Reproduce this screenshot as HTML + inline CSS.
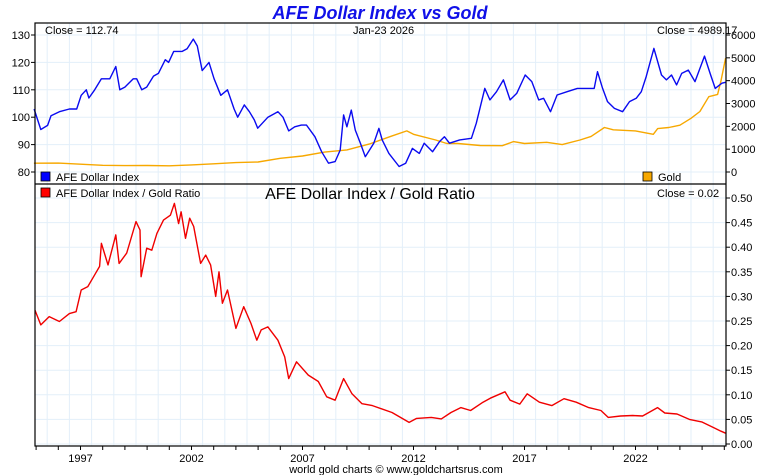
<!DOCTYPE html>
<html><head><meta charset="utf-8"><style>
body{margin:0;background:#fff;width:760px;height:475px;overflow:hidden}
svg{display:block;font-family:"Liberation Sans",sans-serif}
</style></head><body>
<svg id="c" width="760" height="475"></svg>
<script>
const yearTicks=[1997,2002,2007,2012,2017,2022];
const leftTicks=[80,90,100,110,120,130];
const rightTicks=[0,1000,2000,3000,4000,5000,6000];
const ratioTicks=[0,0.05,0.1,0.15,0.2,0.25,0.3,0.35,0.4,0.45,0.5];
const dxDates=[1994.91,1995.21,1995.52,1995.67,1996.05,1996.5,1996.83,1997.03,1997.26,1997.38,1997.64,1997.94,1998.32,1998.59,1998.77,1999.0,1999.38,1999.53,1999.76,1999.98,2000.29,2000.51,2000.82,2000.97,2001.2,2001.58,2001.8,2002.08,2002.26,2002.48,2002.79,2003.02,2003.32,2003.62,2003.92,2004.08,2004.38,2004.61,2004.83,2004.98,2005.44,2005.89,2006.12,2006.38,2006.65,2006.95,2007.18,2007.56,2007.86,2008.17,2008.47,2008.7,2008.85,2009.0,2009.2,2009.38,2009.61,2009.83,2010.21,2010.44,2010.59,2010.89,2011.35,2011.65,2011.95,2012.26,2012.48,2012.86,2013.17,2013.39,2013.62,2014.08,2014.61,2014.83,2015.21,2015.44,2015.74,2016.05,2016.35,2016.65,2017.03,2017.33,2017.64,2017.86,2018.17,2018.47,2018.92,2019.38,2019.83,2020.14,2020.29,2020.52,2020.74,2021.05,2021.42,2021.73,2022.03,2022.26,2022.48,2022.83,2023.17,2023.39,2023.62,2023.85,2024.08,2024.38,2024.68,2025.11,2025.36,2025.59,2025.89,2026.06];
const dxValues=[103,95.5,97,100.5,102,103,103,108,110,107,110,114,114,118.5,110,111,114,114,110,111,115,116,121,120,124,124,125,128.5,126,117,120,114,108,110,103,100,104.5,102,99,96,100,102,100,95,96.5,97.1,97.1,92.9,87.4,83.2,83.8,88,100.8,96.5,102.6,95.3,90.5,85.6,90.5,95.9,91.7,86.8,82,83.2,88.6,86.8,90.5,87.4,91.1,92.9,90.5,91.7,92.3,97.8,110.5,106.3,109.3,113.6,106.3,108.7,115.4,113,106.3,106.9,102,108.1,109.3,110.5,110.5,110.5,116.6,110.5,105.7,103.2,102,105.7,106.9,109.3,114.8,125.1,115.4,113.6,115.4,111.8,116,117.2,113,122.3,116,110.5,112.4,112.74];
const goldDates=[1994.9,1996,1997,1998,1999,2000,2001,2002,2003,2004,2005,2006,2007,2008,2009,2010,2011,2011.7,2012,2013,2013.5,2014,2015,2016,2016.5,2017,2018,2018.7,2019.5,2020,2020.6,2021,2022,2022.8,2023,2023.5,2024,2024.5,2024.9,2025.3,2025.7,2025.85,2026.06];
const goldValues=[385,390,340,295,280,285,270,310,360,410,440,600,700,870,970,1220,1570,1800,1650,1400,1250,1250,1160,1150,1330,1250,1300,1200,1400,1560,1950,1850,1800,1650,1900,1950,2050,2350,2650,3300,3400,4000,4989.17];
const ratioDates=[1994.95,1995.21,1995.59,1996.05,1996.5,1996.8,1997.03,1997.33,1997.64,1997.86,1997.94,1998.24,1998.59,1998.74,1999.08,1999.5,1999.68,1999.73,1999.98,2000.21,2000.44,2000.74,2001.05,2001.23,2001.42,2001.53,2001.73,2001.92,2002.1,2002.41,2002.64,2002.86,2003.09,2003.24,2003.39,2003.62,2004.0,2004.35,2004.68,2004.94,2005.14,2005.44,2005.89,2006.2,2006.38,2006.73,2007.26,2007.71,2008.09,2008.47,2008.85,2009.23,2009.68,2010.15,2011.03,2011.8,2012.14,2012.8,2013.25,2013.69,2014.13,2014.57,2015.13,2015.46,2016.12,2016.35,2016.79,2017.12,2017.67,2018.23,2018.78,2019.33,2019.89,2020.44,2020.77,2021.33,2021.88,2022.32,2022.99,2023.32,2023.87,2024.43,2024.98,2025.53,2025.85,2026.06];
const ratioValues=[0.272,0.242,0.259,0.249,0.265,0.269,0.313,0.32,0.344,0.361,0.408,0.364,0.425,0.367,0.388,0.452,0.435,0.34,0.398,0.394,0.428,0.455,0.465,0.489,0.448,0.472,0.418,0.459,0.442,0.367,0.384,0.364,0.3,0.35,0.286,0.313,0.235,0.279,0.245,0.211,0.232,0.238,0.211,0.177,0.133,0.167,0.14,0.127,0.096,0.089,0.133,0.102,0.082,0.078,0.064,0.044,0.052,0.054,0.051,0.064,0.074,0.068,0.085,0.093,0.106,0.089,0.081,0.102,0.085,0.078,0.092,0.085,0.074,0.068,0.054,0.057,0.058,0.057,0.074,0.063,0.061,0.05,0.045,0.033,0.026,0.022];

const L=35,R=726,T1=23,B1=184,B2=446;
const X=y=>80.5+(y-1997)*22.2;
const YL=v=>35+(130-v)*2.74;
const YR=v=>172-v*137/6000;
const YB=v=>444-v*492;
const svg=document.getElementById('c');
const NS='http://www.w3.org/2000/svg';
function mk(t,a,p){const e=document.createElementNS(NS,t);for(const k in a)e.setAttribute(k,a[k]);(p||svg).appendChild(e);return e;}
function txt(s,x,y,a){const e=mk('text',Object.assign({x:x,y:y,'font-size':11,fill:'#000'},a||{}));e.textContent=s;return e;}
// grid
const grid=mk('g',{stroke:'#e3eff9','stroke-width':1});


for(let y=1995;y<=2026;y++){const x=X(y)-11.1;if(x>L&&x<R){mk('line',{x1:x,x2:x,y1:T1,y2:B2},grid);}}
leftTicks.forEach(v=>mk('line',{x1:L,x2:R,y1:YL(v),y2:YL(v)},grid));
ratioTicks.forEach(v=>mk('line',{x1:L,x2:R,y1:YB(v),y2:YB(v)},grid));
// lines
function line(ds,vs,fx,fy,col,name){const p=mk('polyline',{points:ds.map((d,i)=>fx(d).toFixed(1)+','+fy(vs[i]).toFixed(1)).join(' '),fill:'none',stroke:col,'stroke-width':1.4,'stroke-linejoin':'round'});

}
line(goldDates,goldValues,X,YR,'#f7a800','gold-line');
line(dxDates,dxValues,X,YL,'#0a0af0','dollar-index-line');
line(ratioDates,ratioValues,X,YB,'#f00000','ratio-line');
// frame
mk('rect',{x:L,y:T1,width:R-L,height:B2-T1,fill:'none',stroke:'#000','stroke-width':1.2});
mk('line',{x1:L,x2:R,y1:B1,y2:B1,stroke:'#000','stroke-width':1.2});
// ticks
leftTicks.forEach(v=>{mk('line',{x1:L-4,x2:L,y1:YL(v),y2:YL(v),stroke:'#000'});const t=txt(v,30,YL(v)+4,{'text-anchor':'end'});

});
rightTicks.forEach(v=>{mk('line',{x1:R,x2:R+4,y1:YR(v),y2:YR(v),stroke:'#000'});const t=txt(v,731,YR(v)+4);

});
ratioTicks.forEach(v=>{mk('line',{x1:R,x2:R+4,y1:YB(v),y2:YB(v),stroke:'#000'});const t=txt(v.toFixed(2),731,YB(v)+4);

});
for(let y=1995;y<=2026;y++){const x=X(y);if(x>=L&&x<=R)mk('line',{x1:x,x2:x,y1:B2,y2:B2+4,stroke:'#000'});}
yearTicks.forEach(y=>{const t=txt(y,X(y),462,{'text-anchor':'middle'});

});
</script>
<svg width="760" height="475" style="position:absolute;left:0;top:0">
<text x="380" y="19" text-anchor="middle" font-size="18" font-weight="bold" font-style="italic" fill="#1010e8">AFE Dollar Index vs Gold</text>
<text x="45" y="34" font-size="11">Close = 112.74</text>
<text x="353" y="34" font-size="11">Jan-23  2026</text>
<text x="657" y="34" font-size="11">Close = 4989.17</text>
<rect x="41" y="172" width="9" height="9" fill="#0000ff" stroke="#000" stroke-width="0.8"/>
<text x="56" y="181" font-size="11">AFE Dollar Index</text>
<rect x="643" y="172" width="9" height="9" fill="#f7a800" stroke="#000" stroke-width="0.8"/>
<text x="658" y="181" font-size="11">Gold</text>
<rect x="41" y="188" width="9" height="9" fill="#ff0000" stroke="#000" stroke-width="0.8"/>
<text x="56" y="197" font-size="11">AFE Dollar Index / Gold Ratio</text>
<text x="370" y="199" text-anchor="middle" font-size="16">AFE Dollar Index / Gold Ratio</text>
<text x="657" y="197" font-size="11">Close = 0.02</text>
<text x="396" y="473" text-anchor="middle" font-size="11">world gold charts © www.goldchartsrus.com</text>
</svg>
</body></html>
